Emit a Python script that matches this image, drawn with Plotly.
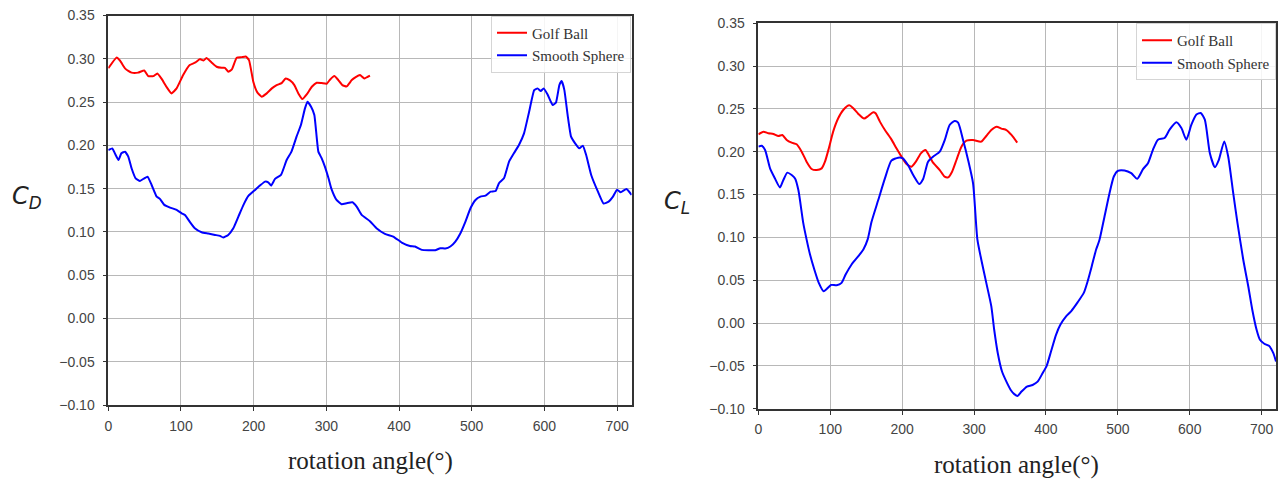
import plotly.graph_objects as go

# Drag coefficient vs rotation angle
cd_golf_angle = [0, 11.5, 16, 23, 27.5, 32, 41, 49.5, 55, 62, 67.5, 73, 80, 87, 94, 103, 112, 120,
                 126, 131, 135, 142, 149, 156, 160.5, 165, 170, 176.6, 183.5, 189, 193.6, 199.5,
                 205, 211, 218, 225, 231.6, 238.5, 244, 250, 256, 261.5, 267, 273, 280, 286.7,
                 293.6, 300.5, 305, 311, 316.5, 322, 328, 335, 340.4, 346.3, 352.3, 360]
cd_golf = [0.289, 0.3015, 0.298, 0.289, 0.286, 0.284, 0.284, 0.2865, 0.280, 0.280, 0.283, 0.2773,
           0.2677, 0.260, 0.2658, 0.2812, 0.2927, 0.2958, 0.2996, 0.298, 0.3008, 0.2958, 0.2908,
           0.2896, 0.2896, 0.285, 0.2877, 0.3012, 0.3019, 0.3027, 0.2985, 0.2735, 0.2612, 0.2562,
           0.260, 0.2658, 0.2696, 0.2719, 0.2773, 0.275, 0.2696, 0.260, 0.2535, 0.2588, 0.2677,
           0.2723, 0.2719, 0.2712, 0.2758, 0.280, 0.2754, 0.2696, 0.2681, 0.2754, 0.2788, 0.2812,
           0.2773, 0.2804]

cd_smooth_angle = [0, 5.5, 9, 14, 18, 23, 27.5, 32, 37.6, 43.6, 49.5, 54, 59.6, 66.5, 71, 77, 85,
                   94, 101, 105.5, 112.4, 119, 128.4, 137.6, 146.8, 153.7, 158, 165, 172, 179,
                   186, 192.7, 202, 208.7, 215.6, 220, 224, 229.4, 237.6, 245.4, 252, 259, 265,
                   270.6, 274, 279, 283.5, 289, 293.6, 298, 303, 307, 314, 321, 328, 335.8,
                   341.7, 348.6, 360, 369, 380.6, 392, 403.7, 415, 422, 431.4, 440.6, 449.8,
                   456.8, 463.7, 470.6, 477.5, 484.5, 491.4, 498.3, 505.2, 512, 519, 526, 533,
                   537.5, 544.4, 551.4, 558, 565, 572, 579, 586, 590.6, 595, 599, 604.4, 611.4,
                   616, 620.6, 623.8, 627.5, 632, 636.7, 642.3, 648, 652.9, 657.5, 664.4, 673.7,
                   681.5, 688.4, 694.4, 700, 705, 713, 720]
cd_smooth = [0.1946, 0.1965, 0.1908, 0.1831, 0.1908, 0.1927, 0.1869, 0.1735, 0.1619, 0.1588,
             0.1619, 0.1638, 0.1542, 0.1408, 0.1381, 0.1312, 0.1281, 0.1254, 0.1215, 0.1196,
             0.1112, 0.1042, 0.0996, 0.0981, 0.0965, 0.0954, 0.0935, 0.0965, 0.1042, 0.1177,
             0.1312, 0.1415, 0.1485, 0.1535, 0.1581, 0.1573, 0.1535, 0.1612, 0.1658, 0.1831,
             0.1927, 0.210, 0.2235, 0.2427, 0.2504, 0.2446, 0.235, 0.1927, 0.185, 0.1754,
             0.1619, 0.1496, 0.1369, 0.1319, 0.1331, 0.1342, 0.1292, 0.1196, 0.1123, 0.1042,
             0.0977, 0.0946, 0.0877, 0.0838, 0.0831, 0.0792, 0.0788, 0.0788, 0.0812, 0.0808,
             0.0831, 0.0888, 0.0985, 0.1119, 0.1273, 0.1369, 0.1408, 0.1419, 0.1465, 0.1473,
             0.1562, 0.1619, 0.1812, 0.1908, 0.2004, 0.2138, 0.2388, 0.2638, 0.2658, 0.2627,
             0.2658, 0.2588, 0.2465, 0.2496, 0.2696, 0.2742, 0.2638, 0.235, 0.210, 0.2023,
             0.1965, 0.1996, 0.1888, 0.1658, 0.1465, 0.1327, 0.135, 0.1408, 0.1488, 0.1458,
             0.1496, 0.1427]

# Lift coefficient vs rotation angle
cl_golf_angle = [0, 7, 13.9, 20.8, 27.8, 33.3, 39.4, 46.3, 53.2, 60.2, 67, 74, 81, 88, 92.6, 98,
                 104, 111, 118, 126.4, 132, 139, 147, 152.8, 159.7, 163, 169, 176, 185, 192, 199,
                 206, 213, 219, 226, 232.4, 237, 243, 252.3, 259, 264, 269.4, 275.5, 282.4,
                 289.4, 298.6, 310, 317, 324, 331.4, 338, 345, 352, 360]
cl_golf = [0.2204, 0.2235, 0.2216, 0.2208, 0.2184, 0.2196, 0.2138, 0.2106, 0.2087, 0.2001, 0.1884,
           0.1799, 0.1787, 0.1806, 0.1884, 0.204, 0.2235, 0.2391, 0.2488, 0.2543, 0.2508, 0.2442,
           0.2387, 0.2418, 0.2461, 0.2449, 0.2352, 0.2254, 0.2145, 0.204, 0.1943, 0.1857, 0.1826,
           0.1884, 0.1982, 0.2021, 0.1962, 0.1873, 0.1787, 0.1709, 0.1701, 0.1767, 0.1904, 0.206,
           0.213, 0.2138, 0.2118, 0.2184, 0.2254, 0.2293, 0.2270, 0.2254, 0.2197, 0.2107]

cl_smooth_angle = [0, 4.6, 9.3, 16.2, 23, 30, 34.7, 40.3, 46.3, 51, 55.6, 62.5, 67, 71.8, 77.8, 84,
                   90.7, 95, 101, 108.8, 115.7, 121.3, 129.6, 139, 146, 152, 157.4, 166.7, 176,
                   185, 194.4, 201, 208, 216.7, 223.6, 229, 236, 243, 252.3, 259.3, 266, 273,
                   277.8, 284.7, 291.7, 298.6, 304.6, 310, 317, 324, 328, 333, 338.9, 345, 351,
                   356, 360.5, 366, 373.5, 381.4, 388.4, 395.3, 401, 407, 414, 420, 428, 434.9,
                   444, 452.6, 458, 463.7, 469.8, 474.4, 481.4, 488.4, 494.4, 500, 509.3, 518.6,
                   527, 535, 541.9, 548.8, 555.8, 565, 572, 581.4, 588.4, 595.3, 602.3, 609.3,
                   615.3, 621, 628, 635, 640.5, 648, 653.5, 660.5, 666.5, 674.4, 681.4, 687, 693,
                   697.7, 703.7, 710.2, 716.3, 720]
cl_smooth = [0.206, 0.2071, 0.2021, 0.1806, 0.1689, 0.1584, 0.167, 0.1756, 0.1728, 0.1689, 0.1553,
             0.1163, 0.0977, 0.080, 0.0625, 0.0469, 0.0371, 0.0398, 0.0445, 0.0441, 0.0469,
             0.0566, 0.0684, 0.0781, 0.0859, 0.0977, 0.1183, 0.1436, 0.1689, 0.1896, 0.1931,
             0.1923, 0.1845, 0.1709, 0.1623, 0.1678, 0.1884, 0.1943, 0.2001, 0.2138, 0.2313,
             0.236, 0.234, 0.2138, 0.1904, 0.1631, 0.0977, 0.0742, 0.0469, 0.0195, -0.0078,
             -0.0352, -0.0566, -0.0684, -0.0781, -0.0830, -0.0852, -0.080, -0.0742, -0.0723,
             -0.0684, -0.0586, -0.050, -0.0332, -0.0137, -0.002, 0.0078, 0.0137, 0.0242, 0.0352,
             0.0488, 0.0664, 0.0859, 0.0969, 0.1242, 0.1516, 0.1711, 0.1777, 0.1781, 0.175,
             0.1684, 0.1797, 0.1867, 0.2023, 0.2141, 0.216, 0.2258, 0.2344, 0.2277, 0.2141,
             0.2316, 0.2434, 0.2453, 0.2375, 0.1984, 0.182, 0.1906, 0.2121, 0.1945, 0.1516,
             0.1164, 0.0742, 0.043, 0.0156, -0.0078, -0.0195, -0.0242, -0.0266, -0.0352, -0.0449]

x_ticks = [0, 100, 200, 300, 400, 500, 600, 700]
y_ticks = [-0.10, -0.05, 0.00, 0.05, 0.10, 0.15, 0.20, 0.25, 0.30, 0.35]

W, H = 1281, 480
RED, BLUE = "#ff0000", "#0000ff"
TICK_FONT = dict(family="Liberation Sans Narrow, Liberation Sans, Arial", size=14, color="#444444")
SERIF = "Liberation Serif, Times New Roman, serif"

fig = go.Figure()

fig.add_trace(go.Scatter(x=cd_golf_angle, y=cd_golf, mode="lines", name="Golf Ball",
                         line=dict(color=RED, width=2, shape="spline", smoothing=0.4),
                         xaxis="x", yaxis="y", legend="legend"))
fig.add_trace(go.Scatter(x=cd_smooth_angle, y=cd_smooth, mode="lines", name="Smooth Sphere",
                         line=dict(color=BLUE, width=2, shape="spline", smoothing=0.4),
                         xaxis="x", yaxis="y", legend="legend"))
fig.add_trace(go.Scatter(x=cl_golf_angle, y=cl_golf, mode="lines", name="Golf Ball",
                         line=dict(color=RED, width=2, shape="spline", smoothing=0.6),
                         xaxis="x2", yaxis="y2", legend="legend2"))
fig.add_trace(go.Scatter(x=cl_smooth_angle, y=cl_smooth, mode="lines", name="Smooth Sphere",
                         line=dict(color=BLUE, width=2, shape="spline", smoothing=0.6),
                         xaxis="x2", yaxis="y2", legend="legend2"))


def px_x(p):
    return p / W


def px_y(p):
    return 1 - p / H


axis_common = dict(showline=True, mirror=True, linecolor="#333333", linewidth=1.6,
                   ticks="outside", ticklen=4, tickwidth=1.2, tickcolor="#333333",
                   showgrid=True, gridcolor="#b8b8b8", gridwidth=1, zeroline=False,
                   tickfont=TICK_FONT, automargin=False)

xa = dict(axis_common, range=[0, 720], tickvals=x_ticks, ticklabelstandoff=3)
ya = dict(axis_common, range=[-0.10, 0.35], tickvals=y_ticks, tickformat=".2f",
          ticklabelstandoff=5)

legend_style = dict(bgcolor="rgba(255,255,255,0.85)", bordercolor="#d5d5d5", borderwidth=1,
                    font=dict(family=SERIF, size=15, color="#333333"),
                    xanchor="right", yanchor="top", tracegroupgap=0, itemwidth=30)


def label(text, x, y, family, size):
    return dict(text=text, x=px_x(x), y=px_y(y), xref="paper", yref="paper",
                xanchor="center", yanchor="middle", showarrow=False,
                font=dict(family=family, size=size, color="#222222"))


fig.update_layout(
    width=W, height=H,
    margin=dict(l=0, r=0, t=0, b=0, autoexpand=False),
    paper_bgcolor="white", plot_bgcolor="white",
    xaxis=dict(xa, domain=[px_x(108.3), px_x(631.6)], anchor="y"),
    yaxis=dict(ya, domain=[px_y(405), px_y(15.5)], anchor="x"),
    xaxis2=dict(xa, domain=[px_x(758.4), px_x(1276)], anchor="y2"),
    yaxis2=dict(ya, domain=[px_y(408.7), px_y(23.3)], anchor="x2"),
    legend=dict(legend_style, x=px_x(631), y=px_y(15.5)),
    legend2=dict(legend_style, x=px_x(1276), y=px_y(23)),
    annotations=[
        label("<i>C</i><sub><i>D</i></sub>", 27, 197, "DejaVu Sans", 24),
        label("<i>C</i><sub><i>L</i></sub>", 677, 202, "DejaVu Sans", 24),
        label("rotation angle(°)", 370, 461, SERIF, 25),
        label("rotation angle(°)", 1016, 465, SERIF, 25),
    ],
)

fig.write_html("out.html")
